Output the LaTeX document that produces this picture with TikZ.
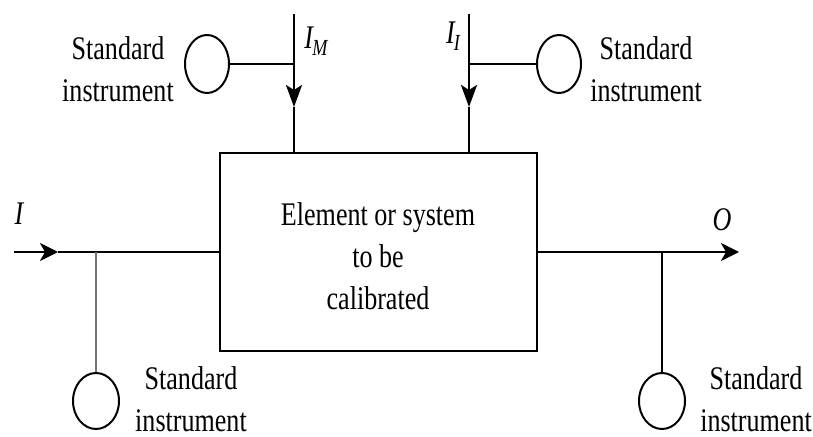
\documentclass[tikz,border=0pt]{standalone}
\usepackage{fontspec}
\setmainfont{Liberation Serif}
\usetikzlibrary{shapes.geometric,arrows.meta}
\newcommand\nar[1]{\scalebox{0.79}[1]{#1}}
\begin{document}
\begin{tikzpicture}[x=0.5pt,y=-0.5pt,
  txt/.style={font=\fontsize{16.5}{21}\selectfont,align=center,inner sep=0pt},
  lbl/.style={font=\fontsize{16.5}{21}\selectfont\itshape,inner sep=0pt},
  inst/.style={draw,ellipse,line width=1pt,inner sep=0pt},
  wire/.style={line width=1.3pt},
  vtip/.style={-{Stealth[length=11pt,width=8pt,inset=2.5pt]}},
  htip/.style={-{Stealth[length=9pt,width=9pt,inset=2.5pt]}}]
\useasboundingbox (0,0) rectangle (813,437);
% main block
\node[draw,wire,minimum width=158.5pt,minimum height=99pt,inner sep=0pt] (box) at (378.5,252) {};
\node[txt] (boxt) at (378,256) {\nar{Element or system}\\\nar{to be}\\\nar{calibrated}};
% instruments
\node[inst,minimum width=22pt,minimum height=29pt] (cM) at (207,64) {};
\node[inst,minimum width=22pt,minimum height=29pt] (cI) at (559,64) {};
\node[inst,minimum width=23pt,minimum height=28pt] (cIn) at (96,401) {};
\node[inst,minimum width=23pt,minimum height=28pt] (cOut) at (662,401) {};
\node[txt] (sM) at (118,69) {\nar{Standard}\\\nar{instrument}};
\node[txt] (sI) at (646,69) {\nar{Standard}\\\nar{instrument}};
\node[txt] (sIn) at (191,399) {\nar{Standard}\\\nar{instrument}};
\node[txt] (sOut) at (756,399) {\nar{Standard}\\\nar{instrument}};
% labels
\node[lbl] (lM) at (316,41) {\nar{I\kern-0.5pt\raisebox{-3.5pt}{\fontsize{11.5}{12}\selectfont M}}};
\node[lbl] (lI) at (453,36) {\nar{I\kern-0.5pt\raisebox{-3.5pt}{\fontsize{11.5}{12}\selectfont I}}};
\node[lbl] (lIn) at (19,214) {\nar{I}};
\node[lbl] (lOut) at (722,220) {\nar{O}};
% coordinates
\coordinate (tM) at (294,14);
\coordinate (aM) at (294,107);
\coordinate (tI) at (469,14);
\coordinate (aI) at (469,107);
\coordinate (inS) at (14,252);
\coordinate (aIn) at (58,252);
\coordinate (jIn) at (96,252);
\coordinate (aOut) at (739,252);
\coordinate (jOut) at (662,252);
% top-left
\draw[wire,vtip] (tM) -- (aM);
\draw[wire] (aM) -- (aM |- box.north);
\draw[wire] (cM.east) -- (cM.east -| tM);
% top-right
\draw[wire,vtip] (tI) -- (aI);
\draw[wire] (aI) -- (aI |- box.north);
\draw[wire] (cI.west) -- (cI.west -| tI);
% input
\draw[wire,htip] (inS) -- (aIn);
\draw[wire] (aIn) -- (box.west);
\draw[wire,black!55] (jIn) -- (cIn.north);
% output
\draw[wire,htip] (box.east) -- (aOut);
\draw[wire] (jOut) -- (cOut.north);
\end{tikzpicture}
\end{document}
